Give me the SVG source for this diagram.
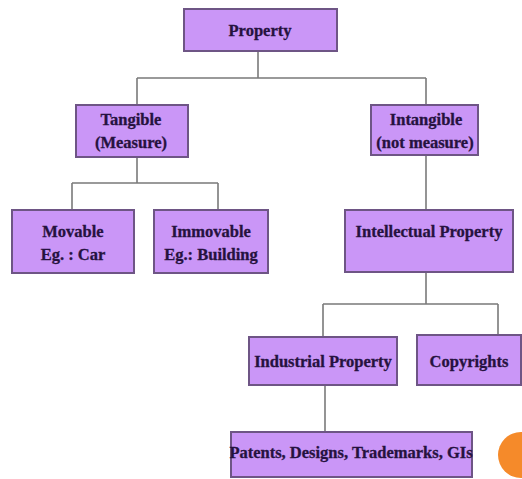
<svg xmlns="http://www.w3.org/2000/svg" width="522" height="479" viewBox="0 0 522 479">
<style>
.box{fill:#CA96F7;stroke:#6E5585;stroke-width:2}
.t{font-family:"Liberation Serif","DejaVu Serif",serif;font-weight:bold;font-size:16.5px;fill:#26123F;stroke:#26123F;stroke-width:0.3;text-anchor:middle}
.c{fill:none;stroke:#7A7A7A;stroke-width:1.6}
</style>
<rect width="522" height="479" fill="#FFFFFF"/>
<g id="connectors">
<path class="c" d="M258 51V78M137 78H426M137 78V105M426 78V105"/>
<path class="c" d="M137 157V183M72 183H218M72 183V210M218 183V210"/>
<path class="c" d="M426 155V210"/>
<path class="c" d="M426 272V304M323 304H498M323 304V337M498 304V335"/>
<path class="c" d="M325 385V432"/>
</g>
<g id="property"><rect class="box" x="184" y="9" width="153" height="42"/><text class="t" x="260" y="36">Property</text></g>
<g id="tangible"><rect class="box" x="76" y="105" width="112" height="52"/><text class="t" x="131" y="125">Tangible</text><text class="t" x="131" y="148">(Measure)</text></g>
<g id="intangible"><rect class="box" x="371" y="105" width="107" height="50"/><text class="t" x="426" y="125">Intangible</text><text class="t" x="425" y="148">(not measure)</text></g>
<g id="movable"><rect class="box" x="12" y="210" width="122" height="63"/><text class="t" x="73" y="237">Movable</text><text class="t" x="73" y="260">Eg. : Car</text></g>
<g id="immovable"><rect class="box" x="154" y="210" width="114" height="63"/><text class="t" x="211" y="237">Immovable</text><text class="t" x="211" y="260">Eg.: Building</text></g>
<g id="intellectual"><rect class="box" x="345" y="210" width="168" height="62"/><text class="t" x="429" y="237">Intellectual Property</text></g>
<g id="industrial"><rect class="box" x="249" y="337" width="148" height="48"/><text class="t" x="323" y="367">Industrial Property</text></g>
<g id="copyrights"><rect class="box" x="417" y="335" width="104" height="50"/><text class="t" x="469" y="367">Copyrights</text></g>
<g id="patents"><rect class="box" x="231" y="432" width="241" height="45"/><text class="t" x="351" y="458">Patents, Designs, Trademarks, GIs</text></g>
<circle cx="521" cy="455" r="23" fill="#F58A2A"/>
</svg>
